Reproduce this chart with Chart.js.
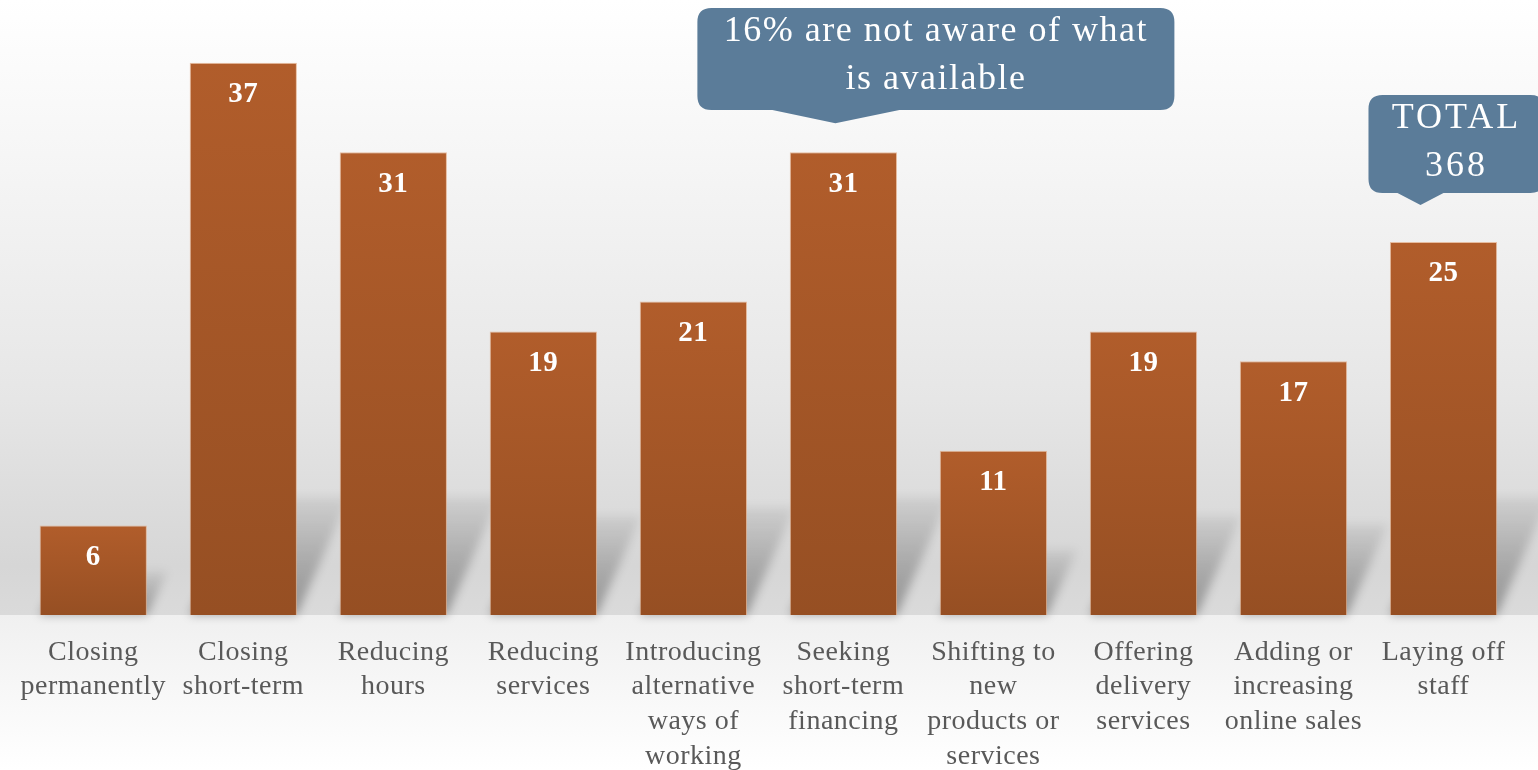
<!DOCTYPE html>
<html>
<head>
<meta charset="utf-8">
<title>Business responses</title>
<script src="https://cdn.jsdelivr.net/npm/chart.js@4.4.0/dist/chart.umd.min.js"></script>
<style>
  html, body { margin: 0; padding: 0; background: #fff; }
  #wrap { width: 1538px; height: 770px; }
</style>
</head>
<body>
<div id="wrap"><canvas id="actionsChart" width="1538" height="770"></canvas></div>
<script>
const categories = [
    ['Closing', 'permanently'],
    ['Closing', 'short-term'],
    ['Reducing', 'hours'],
    ['Reducing', 'services'],
    ['Introducing', 'alternative', 'ways of', 'working'],
    ['Seeking', 'short-term', 'financing'],
    ['Shifting to', 'new', 'products or', 'services'],
    ['Offering', 'delivery', 'services'],
    ['Adding or', 'increasing', 'online sales'],
    ['Laying off', 'staff']
];
const responses = [6, 37, 31, 19, 21, 31, 11, 19, 17, 25];
const awarenessNote = ['16% are not aware of what', 'is available'];
const totalNote = ['TOTAL', '368'];

const SERIF = '"Liberation Serif", "DejaVu Serif", serif';
const CALLOUT = '#5b7c99';

// grey studio backdrop behind the bars, lighter floor below the baseline
const backdrop = {
    id: 'backdrop',
    beforeUpdate(chart) { chart.ctx.letterSpacing = '0.5px'; },
    beforeDraw(chart) {
        const { ctx, width, height } = chart;
        const base = chart.scales.y.getPixelForValue(0);
        ctx.save();
        let g = ctx.createLinearGradient(0, 0, 0, base);
        g.addColorStop(0, '#ffffff');
        g.addColorStop(0.25, '#f6f6f6');
        g.addColorStop(0.65, '#e6e6e6');
        g.addColorStop(0.92, '#d6d6d6');
        g.addColorStop(1, '#dadada');
        ctx.fillStyle = g;
        ctx.fillRect(0, 0, width, base);
        g = ctx.createLinearGradient(0, base, 0, height);
        g.addColorStop(0, '#f0f0f0');
        g.addColorStop(1, '#ffffff');
        ctx.fillStyle = g;
        ctx.fillRect(0, base, width, height - base);
        ctx.restore();
    },
    beforeDatasetsDraw(chart) {
        const { ctx } = chart;
        ctx.save();
        ctx.filter = 'blur(5px)';
        chart.getDatasetMeta(0).data.forEach(bar => {
            const left = bar.x - bar.width / 2, right = bar.x + bar.width / 2;
            const hgt = bar.base - bar.y;
            const s = Math.min(1, hgt / 350);
            const dx = 42 * s + 10, dy = 100 * s + 18;
            const g = ctx.createLinearGradient(0, bar.base, 0, bar.base - dy);
            g.addColorStop(0, 'rgba(0,0,0,0.32)');
            g.addColorStop(1, 'rgba(0,0,0,0.06)');
            ctx.fillStyle = g;
            ctx.beginPath();
            ctx.moveTo(left, bar.base);
            ctx.lineTo(right, bar.base);
            ctx.lineTo(right + dx, bar.base - dy);
            ctx.lineTo(left + dx, bar.base - dy);
            ctx.closePath();
            ctx.fill();
        });
        ctx.restore();
    }
};

function drawCallout(ctx, box, tip, lines, spacing) {
    const r = 14;
    ctx.save();
    ctx.fillStyle = CALLOUT;
    ctx.beginPath();
    ctx.moveTo(box.l + r, box.t);
    ctx.lineTo(box.r - r, box.t);
    ctx.quadraticCurveTo(box.r, box.t, box.r, box.t + r);
    ctx.lineTo(box.r, box.b - r);
    ctx.quadraticCurveTo(box.r, box.b, box.r - r, box.b);
    ctx.lineTo(tip.x + tip.w2, box.b);
    ctx.lineTo(tip.x, tip.y);
    ctx.lineTo(tip.x - tip.w1, box.b);
    ctx.lineTo(box.l + r, box.b);
    ctx.quadraticCurveTo(box.l, box.b, box.l, box.b - r);
    ctx.lineTo(box.l, box.t + r);
    ctx.quadraticCurveTo(box.l, box.t, box.l + r, box.t);
    ctx.closePath();
    ctx.fill();
    ctx.fillStyle = '#ffffff';
    ctx.font = '36px ' + SERIF;
    ctx.letterSpacing = spacing;
    ctx.textAlign = 'center';
    ctx.textBaseline = 'middle';
    const cx = (box.l + box.r) / 2;
    lines.forEach((t, i) => ctx.fillText(t, cx, box.t + 24 + i * 48));
    ctx.restore();
}

const annotations = {
    id: 'annotations',
    afterDatasetsDraw(chart) {
        const { ctx } = chart;
        const bars = chart.getDatasetMeta(0).data;
        ctx.save();
        ctx.fillStyle = '#ffffff';
        ctx.font = 'bold 29px ' + SERIF;
        ctx.textAlign = 'center';
        ctx.textBaseline = 'middle';
        bars.forEach((bar, i) => ctx.fillText(String(responses[i]), bar.x, bar.y + 32));
        ctx.restore();

        const b5 = bars[5];
        drawCallout(ctx,
            { l: b5.x - 146, r: b5.x + 331, t: 8, b: 110 },
            { x: b5.x - 8, y: b5.y - 29, w1: 63, w2: 64 },
            awarenessNote, '1.5px');
        const b9 = bars[9];
        drawCallout(ctx,
            { l: b9.x - 75, r: b9.x + 101, t: 95, b: 193 },
            { x: b9.x - 23, y: b9.y - 37, w1: 23, w2: 23 },
            totalNote, '3px');
    }
};

const ctx = document.getElementById('actionsChart').getContext('2d');
const chart = new Chart(ctx, {
    type: 'bar',
    data: {
        labels: categories,
        datasets: [{
            data: responses,
            backgroundColor: function(context) {
                const c = context.chart;
                if (!c.chartArea) return '#a4552a';
                const y = c.scales.y;
                const top = y.getPixelForValue(responses[context.dataIndex]);
                const base = y.getPixelForValue(0);
                const g = c.ctx.createLinearGradient(0, top, 0, base);
                g.addColorStop(0, '#b15d2b');
                g.addColorStop(1, '#964f23');
                return g;
            },
            borderColor: 'rgba(225, 165, 125, 0.7)',
            borderWidth: 1,
            barPercentage: 0.715,
            categoryPercentage: 1
        }]
    },
    options: {
        responsive: false,
        animation: false,
        layout: { padding: { top: 18, left: 11, right: 19.5, bottom: 0 } },
        plugins: {
            legend: { display: false },
            tooltip: { enabled: false }
        },
        scales: {
            x: {
                grid: { display: false, drawTicks: false },
                border: { display: false },
                afterFit(scale) { scale.height = 155; },
                ticks: {
                    color: '#595959',
                    padding: 20,
                    maxRotation: 0,
                    autoSkip: false,
                    font: { family: SERIF, size: 28, lineHeight: 1.24 }
                }
            },
            y: {
                display: false,
                min: 0,
                max: 40
            }
        }
    },
    plugins: [backdrop, annotations]
});
</script>
</body>
</html>
